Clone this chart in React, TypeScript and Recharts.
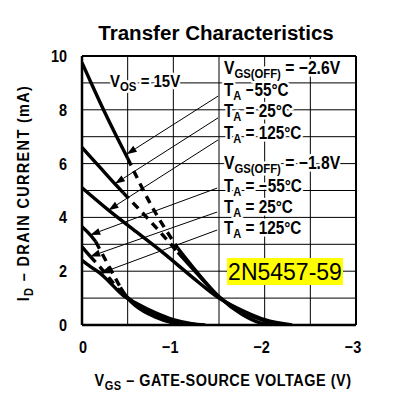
import React from 'react';
import { LineChart, Line, XAxis, YAxis, CartesianGrid, ReferenceLine } from 'recharts';

type P = [number, number];

const xTicks = [0, -0.5, -1, -1.5, -2, -2.5, -3];
const xTickLabels = ['0', '', '\u22121', '', '\u22122', '', '\u22123'];
const yTicks = [0, 1, 2, 3, 4, 5, 6, 7, 8, 9, 10];
const yTickLabels = ['0', '', '2', '', '4', '', '6', '', '8', '', '10'];

// VGS(OFF) = -2.6V group
const a1Solid: P[] = [[0, 9.75], [-0.12, 8.85], [-0.25, 7.9], [-0.38, 7.0], [-0.5, 6.2]];
const a1Dash: P[] = [[-0.5, 6.2], [-0.75, 4.5], [-1.05, 2.85]];
const a1Tail: P[] = [[-1.05, 2.85], [-1.25, 2.0], [-1.5, 1.05], [-1.75, 0.4], [-1.95, 0.08], [-2.05, 0]];
const a2Solid: P[] = [[0, 6.6], [-0.2, 5.85], [-0.36, 5.25], [-0.45, 4.92]];
const a2Dash: P[] = [[-0.45, 4.92], [-0.75, 3.85], [-1.05, 2.7]];
const a2Tail: P[] = [[-1.05, 2.7], [-1.25, 1.95], [-1.5, 1.05], [-1.75, 0.5], [-2.0, 0.15], [-2.25, 0]];
const a3Solid: P[] = [[0, 5.1], [-0.29, 4.27], [-0.6, 3.45], [-0.89, 2.68], [-1.2, 1.8], [-1.5, 1.0], [-1.75, 0.55], [-2.0, 0.2], [-2.3, 0]];

// VGS(OFF) = -1.8V group
const b1Solid: P[] = [[0, 3.65], [-0.09, 3.35], [-0.15, 3.1]];
const b1Dash: P[] = [[-0.15, 3.1], [-0.3, 2.15], [-0.42, 1.4]];
const b1Tail: P[] = [[-0.42, 1.4], [-0.5, 1.0], [-0.6, 0.68], [-0.8, 0.3], [-1.0, 0.07], [-1.1, 0]];
const b2Solid: P[] = [[0, 2.9], [-0.09, 2.55]];
const b2Dash: P[] = [[-0.09, 2.55], [-0.25, 1.95], [-0.4, 1.3]];
const b2Tail: P[] = [[-0.4, 1.3], [-0.5, 1.02], [-0.6, 0.75], [-0.8, 0.38], [-1.0, 0.14], [-1.25, 0]];
const b3Solid: P[] = [[0, 2.4], [-0.1, 2.15], [-0.2, 1.92], [-0.3, 1.6], [-0.45, 1.1], [-0.6, 0.8], [-0.8, 0.46], [-1.0, 0.2], [-1.2, 0.05], [-1.35, 0]];

// arrows: [start, tip]
const arrows: [P, P][] = [
  [[-1.49, 8.51], [-0.49, 6.35]],
  [[-1.49, 7.7], [-0.36, 5.25]],
  [[-1.49, 6.88], [-0.29, 4.27]],
  [[-1.48, 5.09], [-0.09, 3.35]],
  [[-1.48, 4.2], [-0.09, 2.55]],
  [[-1.48, 3.53], [-0.2, 1.92]],
];

const solidSeries = [a1Solid, a1Tail, a2Solid, a2Tail, a3Solid, b1Solid, b1Tail, b2Solid, b2Tail, b3Solid];
const dashSeries = [a1Dash, a2Dash, b1Dash, b2Dash];

const toData = (pts: P[]) => pts.map(([v, i]) => ({ v, i }));

const FONT = "'Liberation Sans', Arial, Helvetica, sans-serif";

function CText(props: { x: number; y: number; size?: number; sx?: number; anchor?: string; halo?: boolean; rotate?: number; ls?: number; children: React.ReactNode }) {
  const { x, y, size = 16, sx = 0.82, anchor = 'start', halo = false, rotate = 0, ls = 0, children } = props;
  return (
    <g transform={`translate(${x},${y}) rotate(${rotate}) scale(${sx},1)`}>
      <text
        x={0}
        y={0}
        fontSize={size}
        fontWeight="bold"
        fontFamily={FONT}
        textAnchor={anchor as any}
        letterSpacing={ls}
        fill="#000"
        stroke={halo ? '#fff' : 'none'}
        strokeWidth={halo ? 5 : 0}
        strokeLinejoin="round"
        paintOrder="stroke"
      >
        {children}
      </text>
    </g>
  );
}

const Sub = ({ children, size = 13 }: { children: React.ReactNode; size?: number }) => (
  <tspan fontSize={size} dy={4}>{children}</tspan>
);

const ArrowShape = (p: any) => {
  const { x1, y1, x2, y2 } = p;
  const ang = Math.atan2(y2 - y1, x2 - x1);
  const L = 10;
  const W = 3.5;
  const bx = x2 - L * Math.cos(ang);
  const by = y2 - L * Math.sin(ang);
  const nx = -Math.sin(ang) * W;
  const ny = Math.cos(ang) * W;
  return (
    <g>
      <line x1={x1} y1={y1} x2={bx} y2={by} stroke="#000" strokeWidth={1} />
      <polygon points={`${x2},${y2} ${bx + nx},${by + ny} ${bx - nx},${by - ny}`} fill="#000" />
    </g>
  );
};

const YTick = (p: any) => {
  const idx = yTicks.indexOf(p.payload.value);
  const label = yTickLabels[idx] ?? '';
  if (!label) return <g />;
  return <CText x={67} y={p.y + 6} size={17} sx={0.85} anchor="end">{label}</CText>;
};

const XTick = (p: any) => {
  const idx = xTicks.indexOf(p.payload.value);
  const label = xTickLabels[idx] ?? '';
  if (!label) return <g />;
  return <CText x={p.x - (idx === 0 ? -1 : 3)} y={353} size={17} sx={0.85} anchor="middle">{label}</CText>;
};

export default function App() {
  return (
    <div style={{ position: 'absolute', left: 0, top: 0, width: 397, height: 397, background: '#fff' }}>
      <LineChart width={397} height={397} margin={{ top: 56, right: 41, left: 0, bottom: 0 }}>
        <CartesianGrid stroke="#000" strokeWidth={1} />
        <XAxis
          type="number"
          dataKey="v"
          domain={[-3, 0]}
          reversed
          ticks={xTicks}
          interval={0}
          height={72}
          tickLine={false}
          axisLine={{ stroke: '#000', strokeWidth: 2.5 }}
          tick={<XTick />}
          allowDataOverflow
        />
        <YAxis
          type="number"
          dataKey="i"
          domain={[0, 10]}
          ticks={yTicks}
          interval={0}
          width={82}
          tickLine={false}
          axisLine={{ stroke: '#000', strokeWidth: 2.5 }}
          tick={<YTick />}
          allowDataOverflow
        />
        <ReferenceLine y={10} stroke="#000" strokeWidth={2} />
        <ReferenceLine x={-3} stroke="#000" strokeWidth={2} />
        {solidSeries.map((s, k) => (
          <Line key={'s' + k} data={toData(s)} dataKey="i" type="monotone" stroke="#000" strokeWidth={3.4} dot={false} activeDot={false} isAnimationActive={false} />
        ))}
        {dashSeries.map((s, k) => (
          <Line key={'d' + k} data={toData(s)} dataKey="i" type="monotone" stroke="#000" strokeWidth={3.4} strokeDasharray="8 6" dot={false} activeDot={false} isAnimationActive={false} />
        ))}
        {arrows.map(([a, b], k) => (
          <ReferenceLine key={'a' + k} segment={[{ x: a[0], y: a[1] }, { x: b[0], y: b[1] }]} shape={ArrowShape} ifOverflow="visible" />
        ))}
      </LineChart>
      <svg width={397} height={397} style={{ position: 'absolute', left: 0, top: 0, pointerEvents: 'none' }}>
        <CText x={216} y={40} size={21} sx={0.98} anchor="middle">Transfer Characteristics</CText>
        <CText x={110} y={87} size={17} sx={0.88} halo>V<Sub>OS</Sub><tspan dy={-4}> = 15V</tspan></CText>

        <CText x={224} y={74} size={18} sx={0.87} halo>V<Sub>GS(OFF)</Sub><tspan dy={-4}> = {'\u2212'}2.6V</tspan></CText>
        <CText x={224} y={96} size={18} sx={0.85} halo>T<Sub>A</Sub><tspan dy={-4}> {'\u2212'}55°C</tspan></CText>
        <CText x={224} y={117} size={18} sx={0.85} halo>T<Sub>A</Sub><tspan dy={-4}> = 25°C</tspan></CText>
        <CText x={224} y={139} size={18} sx={0.85} halo>T<Sub>A</Sub><tspan dy={-4}> = 125°C</tspan></CText>
        <CText x={224} y={169} size={18} sx={0.87} halo>V<Sub>GS(OFF)</Sub><tspan dy={-4}> = {'\u2212'}1.8V</tspan></CText>
        <CText x={224} y={192} size={18} sx={0.85} halo>T<Sub>A</Sub><tspan dy={-4}> = {'\u2212'}55°C</tspan></CText>
        <CText x={224} y={213} size={18} sx={0.85} halo>T<Sub>A</Sub><tspan dy={-4}> = 25°C</tspan></CText>
        <CText x={224} y={234} size={18} sx={0.85} halo>T<Sub>A</Sub><tspan dy={-4}> = 125°C</tspan></CText>

        <rect x={227} y={258} width={116} height={27} fill="#ffff00" />
        <text x={285} y={280} fontSize={23} fontFamily={FONT} textAnchor="middle" fill="#000">2N5457-59</text>

        <CText x={223} y={386} size={17} sx={0.85} ls={0.6} anchor="middle">V<Sub>GS</Sub><tspan dy={-4}> {'\u2013'} GATE-SOURCE VOLTAGE (V)</tspan></CText>
        <CText x={29} y={193} size={17} sx={0.85} ls={1.6} anchor="middle" rotate={-90}>I<Sub>D</Sub><tspan dy={-4}> {'\u2013'} DRAIN CURRENT (mA)</tspan></CText>
      </svg>
    </div>
  );
}
